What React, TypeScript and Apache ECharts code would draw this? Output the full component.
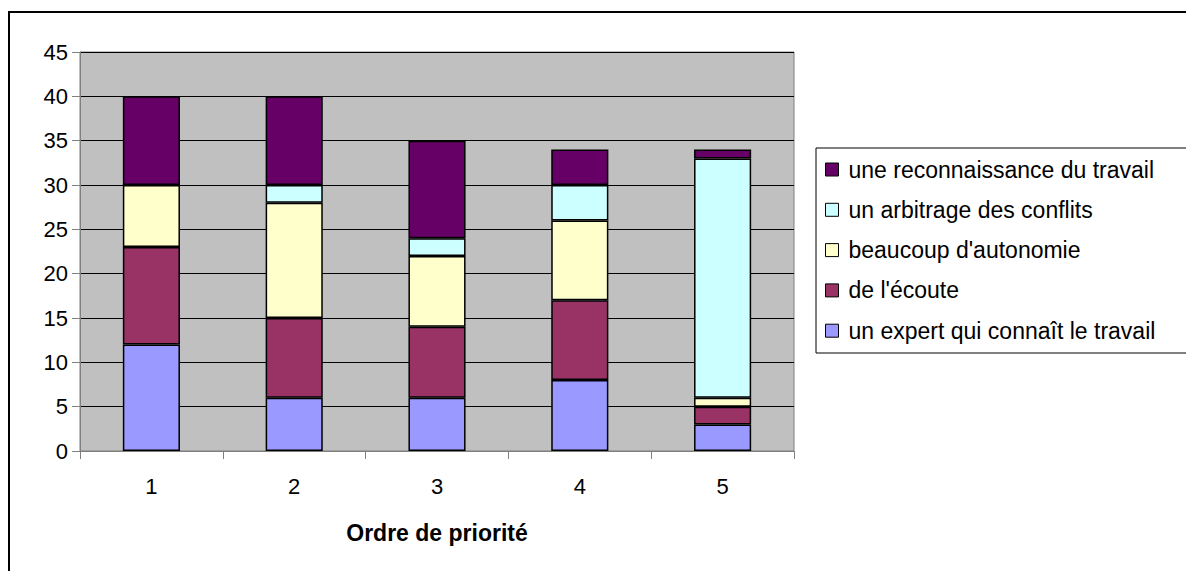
import React, { useEffect, useRef } from "react";
import * as echarts from "echarts";

const categories = ["1", "2", "3", "4", "5"];
const expert = [12, 6, 6, 8, 3];
const ecoute = [11, 9, 8, 9, 2];
const autonomie = [7, 13, 8, 9, 1];
const arbitrage = [0, 2, 2, 4, 27];
const reconnaissance = [10, 10, 11, 4, 1];

const seriesDefs = [
  { name: "un expert qui connaît le travail", data: expert, color: "#9999FF" },
  { name: "de l'écoute", data: ecoute, color: "#993366" },
  { name: "beaucoup d'autonomie", data: autonomie, color: "#FFFFCC" },
  { name: "un arbitrage des conflits", data: arbitrage, color: "#CCFFFF" },
  { name: "une reconnaissance du travail", data: reconnaissance, color: "#660066" },
];

const FONT = "Liberation Sans, Arial, sans-serif";

export default function App() {
  const ref = useRef<HTMLDivElement>(null);
  useEffect(() => {
    const chart = echarts.init(ref.current!, null, { renderer: "svg" });
    chart.setOption({
      animation: false,
      textStyle: { fontFamily: FONT },
      graphic: [
        {
          type: "rect",
          z: 0,
          shape: { x: 9, y: 12, width: 1300, height: 700 },
          style: { fill: "none", stroke: "#000", lineWidth: 2 },
        },
        {
          type: "rect",
          z: 0,
          shape: { x: 816, y: 148, width: 400, height: 205 },
          style: { fill: "#fff", stroke: "#000", lineWidth: 1 },
        },
      ],
      grid: {
        left: 80,
        top: 52,
        right: 392,
        bottom: 120,
        show: true,
        backgroundColor: "#C0C0C0",
        borderColor: "#808080",
        borderWidth: 1,
      },
      legend: {
        orient: "vertical",
        left: 825,
        top: 158,
        z: 10,
        padding: 0,
        itemWidth: 13,
        itemHeight: 13,
        itemGap: 17.3,
        icon: "rect",
        data: [...seriesDefs].reverse().map((s) => s.name),
        textStyle: { fontSize: 23, color: "#000", fontFamily: FONT, padding: [0, 0, 0, 5] },
        itemStyle: { borderColor: "#000", borderWidth: 1 },
      },
      xAxis: {
        type: "category",
        data: categories,
        name: "Ordre de priorité",
        nameLocation: "middle",
        nameGap: 70,
        nameTextStyle: { fontSize: 23, fontWeight: "bold", color: "#000", fontFamily: FONT },
        axisLine: { lineStyle: { color: "#808080", width: 1 } },
        axisTick: { show: true, length: 8, lineStyle: { color: "#808080" } },
        axisLabel: { fontSize: 22, color: "#000", margin: 24, fontFamily: FONT },
      },
      yAxis: {
        type: "value",
        min: 0,
        max: 45,
        interval: 5,
        axisLine: { show: true, lineStyle: { color: "#808080", width: 1 } },
        axisTick: { show: true, length: 8, lineStyle: { color: "#808080" } },
        axisLabel: { fontSize: 22, color: "#000", margin: 12, fontFamily: FONT },
        splitLine: { show: true, lineStyle: { color: "#000", width: 1 } },
      },
      series: seriesDefs.map((s) => ({
        name: s.name,
        type: "bar",
        stack: "total",
        data: s.data,
        barWidth: "40%",
        itemStyle: { color: s.color, borderColor: "#000", borderWidth: 1.5 },
      })),
    });
    return () => chart.dispose();
  }, []);
  return <div ref={ref} style={{ width: 1186, height: 571, position: "absolute", left: 0, top: 0 }} />;
}
